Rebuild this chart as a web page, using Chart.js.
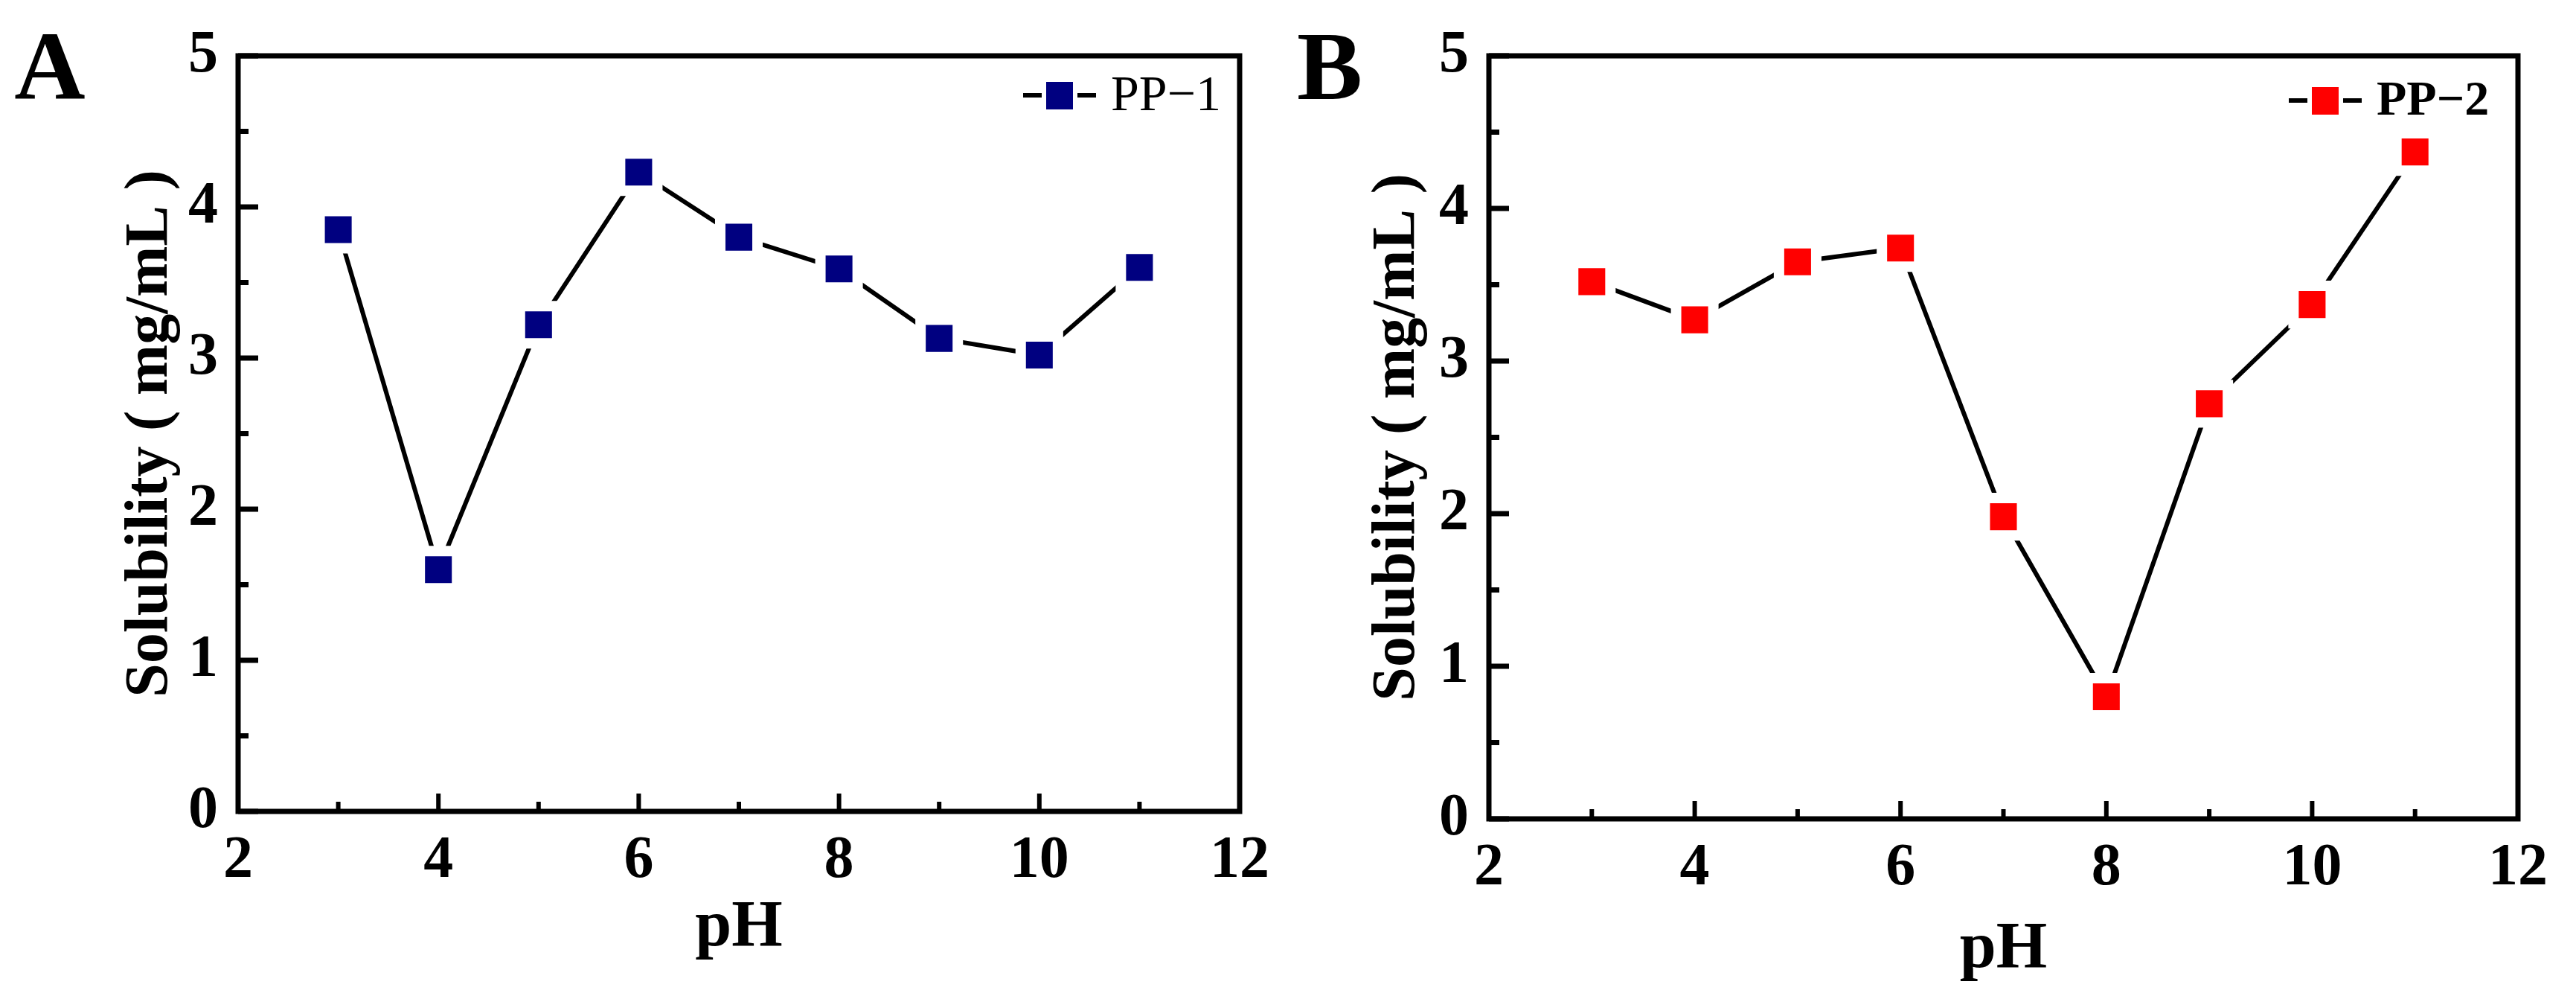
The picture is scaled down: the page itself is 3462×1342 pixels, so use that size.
<!DOCTYPE html>
<html>
<head>
<meta charset="utf-8">
<script src="https://cdn.jsdelivr.net/npm/chart.js@4.4.1/dist/chart.umd.min.js"></script>
<style>
  html, body { margin: 0; padding: 0; background: #fff; }
  .row { display: flex; width: 3462px; height: 1342px; }
  canvas { display: block; }
</style>
</head>
<body>
<div class="row">
  <canvas id="chartA" width="1731" height="1342"></canvas>
  <canvas id="chartB" width="1731" height="1342"></canvas>
</div>
<script>
// данные
const phValues = [3, 4, 5, 6, 7, 8, 9, 10, 11];
const pp1Solubility = [3.85, 1.60, 3.22, 4.23, 3.80, 3.59, 3.13, 3.02, 3.60];
const pp2Solubility = [3.52, 3.27, 3.65, 3.74, 1.98, 0.80, 2.72, 3.37, 4.37];
const xTicks = [2, 4, 6, 8, 10, 12];
const yTicks = [0, 1, 2, 3, 4, 5];

const SERIF = '"Liberation Serif", "Times New Roman", serif';

// рамка, внутренние засечки, легенда и буква панели
const framePlugin = {
  id: 'frame',
  afterDatasetsDraw(chart, args, opts) {
    const { ctx, chartArea: a, scales: { x, y } } = chart;
    ctx.save();
    ctx.strokeStyle = '#000';

    // засечки
    ctx.lineWidth = 6;
    const xStep = xTicks[1] - xTicks[0];
    xTicks.forEach(v => {
      const px = x.getPixelForValue(v);
      ctx.beginPath(); ctx.moveTo(px, a.bottom); ctx.lineTo(px, a.bottom - 24); ctx.stroke();
      if (v + xStep / 2 < xTicks[xTicks.length - 1]) {
        const pm = x.getPixelForValue(v + xStep / 2);
        ctx.beginPath(); ctx.moveTo(pm, a.bottom); ctx.lineTo(pm, a.bottom - 13); ctx.stroke();
      }
    });
    ctx.lineWidth = 7;
    const yStep = yTicks[1] - yTicks[0];
    yTicks.forEach(v => {
      const py = y.getPixelForValue(v);
      ctx.beginPath(); ctx.moveTo(a.left, py); ctx.lineTo(a.left + 27, py); ctx.stroke();
      if (v + yStep / 2 < yTicks[yTicks.length - 1]) {
        const pm = y.getPixelForValue(v + yStep / 2);
        ctx.beginPath(); ctx.moveTo(a.left, pm); ctx.lineTo(a.left + 14, pm); ctx.stroke();
      }
    });

    // рамка
    ctx.lineWidth = 7;
    ctx.strokeRect(a.left, a.top, a.right - a.left, a.bottom - a.top);

    // легенда
    const ds = chart.data.datasets[0];
    const lx = a.right - opts.legendRight;
    const ly = opts.legendY;
    ctx.lineWidth = 6;
    ctx.beginPath();
    ctx.moveTo(lx, ly); ctx.lineTo(lx + 25, ly);
    ctx.moveTo(lx + 73, ly); ctx.lineTo(lx + 98, ly);
    ctx.stroke();
    ctx.fillStyle = ds.backgroundColor;
    ctx.fillRect(lx + 49 - 18, ly - 18, 36, 37);
    ctx.fillStyle = '#000';
    ctx.font = opts.legendFont;
    ctx.textAlign = 'left';
    ctx.textBaseline = 'middle';
    ctx.fillText(ds.label, lx + 118, ly + 2);

    // буква панели
    ctx.font = 'bold 132px ' + SERIF;
    ctx.textAlign = 'center';
    ctx.textBaseline = 'alphabetic';
    ctx.fillText(opts.letter, opts.letterX, 133);
    ctx.restore();
  }
};

function makePanel(id, label, values, color, p) {
  return new Chart(document.getElementById(id), {
    type: 'line',
    data: {
      datasets: [{
        label: label,
        data: phValues.map((v, i) => ({ x: v, y: values[i] })),
        borderColor: '#000',
        borderWidth: 6,
        backgroundColor: color,
        pointStyle: 'rect',
        pointRadius: 35.4,
        pointBackgroundColor: color,
        pointBorderColor: '#fff',
        pointBorderWidth: 14,
        tension: 0
      }]
    },
    options: {
      responsive: false,
      animation: false,
      events: [],
      layout: { padding: { top: p.top, right: p.right, left: 0, bottom: 0 } },
      plugins: {
        legend: { display: false },
        tooltip: { enabled: false },
        frame: { letter: p.letter, letterX: p.letterX, legendRight: p.legendRight, legendY: p.legendY, legendFont: p.legendFont }
      },
      scales: {
        x: {
          type: 'linear',
          min: xTicks[0],
          max: xTicks[xTicks.length - 1],
          grid: { display: false, drawTicks: false },
          border: { display: false },
          ticks: { stepSize: xTicks[1] - xTicks[0], padding: 19, color: '#000', font: { family: SERIF, size: 80, weight: 'bold' } },
          title: { display: true, text: 'pH', color: '#000', padding: p.xTitlePad, font: { family: SERIF, size: 88, weight: 'bold', lineHeight: 1 } },
          afterFit: s => { s.height = p.xHeight; }
        },
        y: {
          min: yTicks[0],
          max: yTicks[yTicks.length - 1],
          grid: { display: false, drawTicks: false },
          border: { display: false },
          ticks: { stepSize: yTicks[1] - yTicks[0], padding: 27, color: '#000', font: { family: SERIF, size: 80, weight: 'bold' } },
          title: { display: true, text: 'Solubility ( mg/mL )', color: '#000', padding: p.yTitlePad, font: { family: SERIF, size: 82, weight: 'bold', lineHeight: 1 } },
          afterFit: s => { s.width = p.yWidth; }
        }
      }
    },
    plugins: [framePlugin]
  });
}

makePanel('chartA', 'PP\u22121', pp1Solubility, '#000080', {
  top: 68, right: 65, xHeight: 252, yWidth: 320, xTitlePad: 51, yTitlePad: 162,
  letter: 'A', letterX: 67, legendRight: 291, legendY: 128, legendFont: '68px ' + SERIF
});

makePanel('chartB', 'PP\u22122', pp2Solubility, '#ff0000', {
  top: 73, right: 78, xHeight: 242, yWidth: 270, xTitlePad: 22, yTitlePad: 107,
  letter: 'B', letterX: 56, legendRight: 308, legendY: 135, legendFont: 'bold 66px ' + SERIF
});
</script>
</body>
</html>
